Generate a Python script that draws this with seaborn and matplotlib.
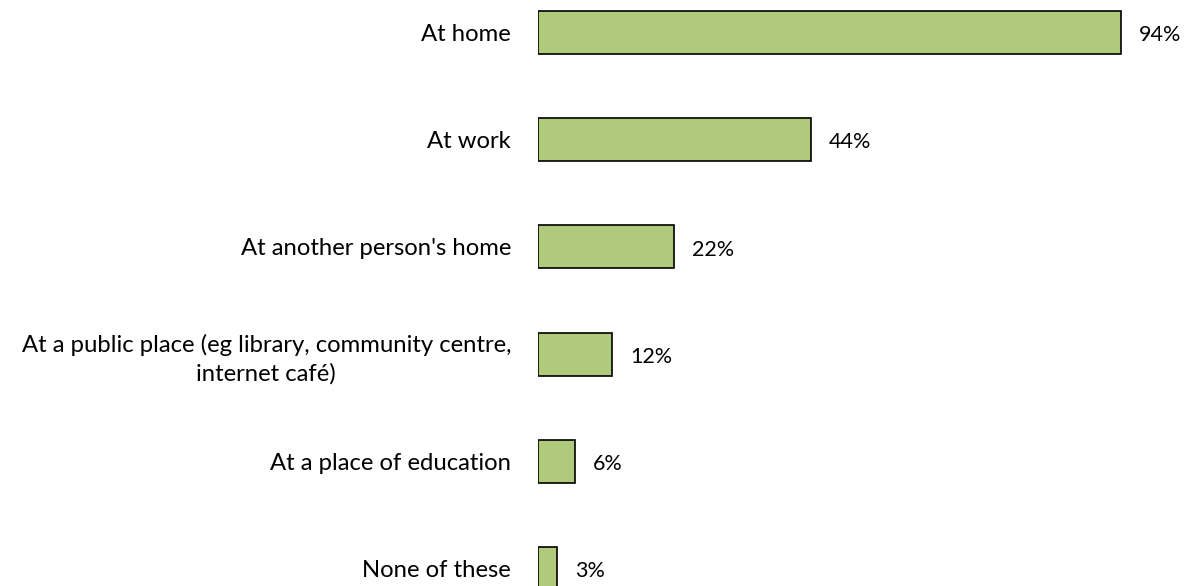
import matplotlib
matplotlib.use("Agg")
import matplotlib.pyplot as plt
import seaborn as sns
import pandas as pd

# Where the internet is accessed (share of respondents, %)
categories = [
    "At home",
    "At work",
    "At another person's home",
    "At a public place (eg library, community centre,\ninternet café)",
    "At a place of education",
    "None of these",
]
values = [94, 44, 22, 12, 6, 3]

df = pd.DataFrame({"place": categories, "share": values})

sns.set_theme(style="white")
plt.rcParams["font.family"] = ["Lato", "DejaVu Sans"]

fig = plt.figure(figsize=(11.85, 5.86), dpi=100)
ax = fig.add_axes([538 / 1185, 0, 620 / 1185, 1])

sns.barplot(data=df, x="share", y="place", orient="h", color="#AFCA7C",
            edgecolor="black", linewidth=1.2, width=0.40, saturation=1, ax=ax)

ax.set_xlim(0, 100)
ax.set_ylim(5.163, -0.303)
ax.set_xlabel("")
ax.set_ylabel("")
ax.set_xticks([])
for s in ax.spines.values():
    s.set_visible(False)

ax.tick_params(axis="y", length=0, pad=19.4, labelsize=17.2)
for lbl in ax.get_yticklabels():
    lbl.set_multialignment("center")
    lbl.set_linespacing(1.4)
    lbl.set_color("black")

for i, v in enumerate(values):
    ax.annotate(f"{v}%", xy=(v, i), xytext=(13, -2), textcoords="offset points",
                ha="left", va="center", fontsize=15.5, color="black")

fig.savefig("out.png", dpi=100)
